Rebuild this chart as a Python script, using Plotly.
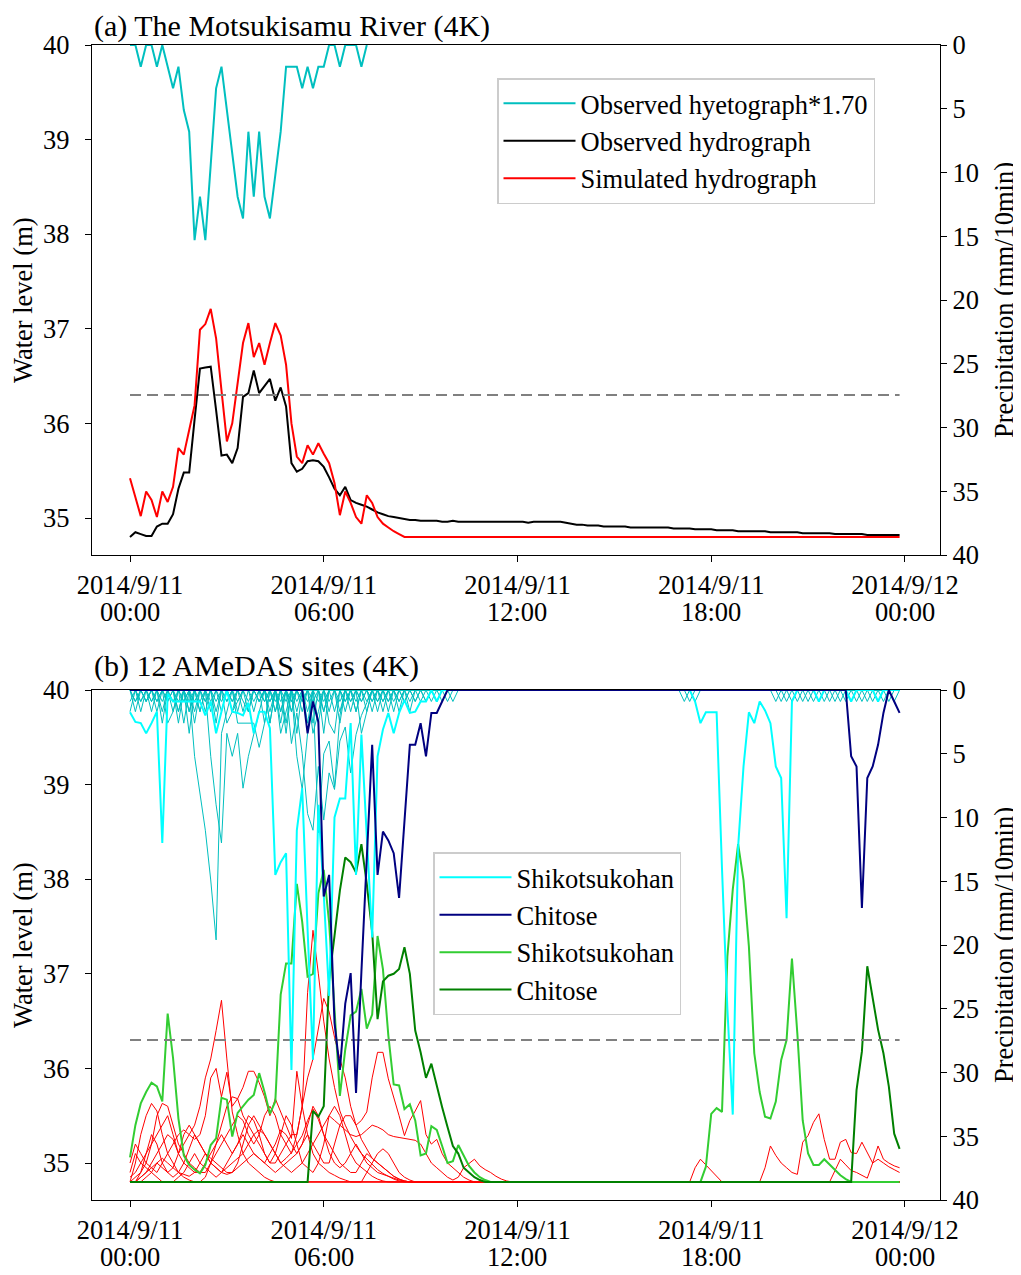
import pandas as pd
import plotly.graph_objects as go
from plotly.subplots import make_subplots

FONT = "Liberation Serif"
N = 144
times = pd.date_range("2014-09-11 00:00", periods=N, freq="10min")

# ---------- (a) The Motsukisamu River ----------
hyeto_a = [0, 0, 1.7, 0, 0, 1.7, 0, 1.7, 3.4, 1.7,
           5.1, 6.8, 15.3, 11.9, 15.3, 9.4, 3.4, 1.7, 5.2, 8.6,
           11.9, 13.6, 6.8, 11.9, 6.8, 11.9, 13.6, 10.2, 6.8, 1.7,
           1.7, 1.7, 3.4, 1.7, 3.4, 1.7, 1.7, 0, 0, 1.7,
           0, 0, 0, 1.7, 0]

obs_a = [34.80, 34.85, 34.83, 34.81, 34.81, 34.91, 34.94, 34.94, 35.04, 35.31,
         35.48, 35.48, 36.04, 36.58, 36.59, 36.60, 36.14, 35.66, 35.67, 35.58,
         35.74, 36.28, 36.32, 36.56, 36.32, 36.39, 36.47, 36.24, 36.38, 36.18,
         35.58, 35.49, 35.52, 35.60, 35.61, 35.60, 35.54, 35.43, 35.31, 35.24,
         35.33, 35.19, 35.16, 35.14, 35.12, 35.09, 35.06, 35.04, 35.02, 35.01,
         35.00, 34.99, 34.98, 34.98, 34.97, 34.97, 34.97, 34.97, 34.96, 34.96,
         34.97, 34.96, 34.96, 34.96, 34.96, 34.96, 34.96, 34.96, 34.96, 34.96,
         34.96, 34.96, 34.96, 34.96, 34.95, 34.96, 34.96, 34.96, 34.96, 34.96,
         34.96, 34.95, 34.94, 34.93, 34.93, 34.92, 34.92, 34.92, 34.91, 34.91,
         34.91, 34.91, 34.91, 34.90, 34.90, 34.90, 34.90, 34.90, 34.90, 34.90,
         34.90, 34.89, 34.89, 34.89, 34.89, 34.88, 34.88, 34.88, 34.88, 34.87,
         34.87, 34.87, 34.87, 34.86, 34.86, 34.86, 34.86, 34.86, 34.86, 34.85,
         34.85, 34.85, 34.85, 34.85, 34.85, 34.84, 34.84, 34.84, 34.84, 34.84,
         34.84, 34.83, 34.83, 34.83, 34.83, 34.83, 34.83, 34.82, 34.82, 34.82,
         34.82, 34.82, 34.82, 34.82]

sim_a = [35.42, 35.22, 35.02, 35.28, 35.19, 35.01, 35.28, 35.17, 35.33, 35.74,
         35.67, 35.93, 36.19, 36.99, 37.05, 37.21, 36.90, 36.35, 35.81, 36.00,
         36.42, 36.85, 37.06, 36.70, 36.85, 36.62, 36.85, 37.06, 36.93, 36.62,
         36.00, 35.65, 35.58, 35.77, 35.67, 35.79, 35.68, 35.58, 35.37, 35.03,
         35.28, 35.16, 35.01, 34.94, 35.24, 35.16, 35.01, 34.94, 34.90, 34.86,
         34.83] + [34.80] * 93

warning_level = 36.3

# ---------- (b) 12 AMeDAS sites ----------
rain_shikotsu = ([1.75, 2.5, 2.6, 3.4, 2.6, 1.7, 12.0, 0.3, 0.9, 0.9,
                  0.9, 0.9, 0.9, 0.9, 2.0, 0.9, 3.4, 1.7, 0.0, 1.7,
                  1.8, 2.0, 1.0, 3.4, 1.7, 1.7, 3.0, 14.5, 13.5, 12.8,
                  29.8, 11.0, 7.7, 18.8, 29.0, 9.0, 16.0, 24.0, 10.0, 8.5,
                  8.5, 2.6, 14.5, 3.5, 11.0, 19.4, 5.2, 3.1, 1.8, 3.4,
                  1.8, 0.8, 1.8, 1.7, 0.9, 0.9, 0.0, 0.9, 0.0, 0.0]
                 + [0.0] * 44
                 + [0.0, 0.9, 2.6, 1.75, 1.75, 1.75,
                    14.0, 25.0, 33.3, 12.3, 6.0, 1.75, 2.6, 0.9, 1.6, 2.6,
                    6.0, 6.9, 17.9, 0.9, 0.0, 0.0, 0.0, 0.0, 0.9, 0.0,
                    0, 0, 0, 0, 0.9, 0, 0, 0, 0, 0.9, 0, 0, 0, 0])

rain_chitose = ([0.0] * 33
                + [3.4, 0.9, 2.5, 16.2, 14.5, 26.1, 29.8, 24.6, 22.2, 31.6,
                   22.1, 13.3, 4.3, 14.5, 11.1, 11.8, 12.8, 16.3, 10.0, 4.3,
                   4.3, 2.6, 5.2, 1.8, 1.8, 0.9]
                + [0.0] * 75
                + [5.2, 6.0, 17.1, 6.9, 6.0, 4.3, 1.8, 0.0, 0.9, 1.8])

wl_shikotsu = ([35.06, 35.40, 35.63, 35.75, 35.85, 35.81, 35.65, 36.58, 36.11, 35.47,
                35.08, 34.98, 34.93, 34.89, 34.98, 35.19, 35.26, 35.69, 35.67, 35.28,
                35.53, 35.60, 35.67, 35.72, 35.95, 35.75, 35.52, 35.65, 36.78, 37.11,
                37.11, 37.95, 37.55, 36.97, 37.00, 37.85, 38.10, 37.54, 36.56, 35.71,
                36.20, 36.56, 36.60, 36.84, 36.42, 36.57, 37.40, 37.05, 36.35, 35.83,
                35.82, 35.57, 35.62, 35.45, 35.08, 35.10, 35.39, 35.35, 35.18, 35.00,
                35.02, 35.19, 35.08, 34.97, 34.90, 34.85, 34.82]
               + [34.80] * 40
               + [34.96, 35.52, 35.58, 35.54, 37.18, 37.89, 38.37, 37.99, 37.29, 36.16,
                  35.75, 35.49, 35.47, 35.65, 36.09, 36.30, 37.16, 36.37, 35.45, 35.10,
                  34.98, 34.98, 35.04, 34.98, 34.93, 34.87, 34.83]
               + [34.80] * 10)

wl_chitose = ([34.80] * 34
              + [35.55, 35.49, 35.60, 36.94, 37.40, 37.88, 38.23, 38.18, 38.07, 38.37,
                 37.95, 37.44, 36.52, 36.92, 36.98, 37.00, 37.05, 37.28, 37.00, 36.40,
                 36.17, 35.90, 36.05, 35.81, 35.59, 35.38, 35.18, 35.10, 34.95, 34.90,
                 34.85, 34.82]
              + [34.80] * 69
              + [35.77, 36.18, 37.08, 36.76, 36.41, 36.16, 35.81, 35.31, 35.15])

# other 10 sites: precipitation readings (index: value, zero elsewhere)
rain_others = [
    {1: 1.7, 3: 0.9, 5: 1.7, 8: 0.9, 10: 2.6, 12: 5.2, 13: 8.0, 14: 11.0, 15: 14.9, 16: 19.6,
     17: 3.4, 18: 1.7, 20: 0.9, 22: 1.7, 24: 0.9, 26: 1.7, 28: 0.9, 30: 1.7, 32: 0.9, 34: 2.6,
     36: 1.7, 39: 0.9, 42: 1.7, 45: 0.9, 48: 0.9, 104: 0.9, 123: 0.9, 127: 0.9, 137: 0.9},
    {0: 0.9, 2: 1.7, 4: 0.9, 6: 2.6, 9: 1.7, 11: 3.4, 13: 1.7, 15: 5.2, 16: 9.0, 17: 12.0,
     18: 3.4, 19: 5.2, 20: 3.4, 21: 7.7, 22: 5.2, 23: 3.4, 24: 1.7, 26: 2.6, 28: 1.7, 30: 4.2,
     31: 1.8, 32: 5.0, 33: 9.7, 34: 11.0, 35: 6.0, 36: 10.2, 37: 6.5, 38: 7.8, 39: 4.0, 40: 2.9,
     41: 6.5, 42: 3.5, 43: 2.0, 44: 1.0, 46: 0.9, 48: 1.7, 50: 0.9, 52: 0.9, 55: 0.9,
     105: 0.9, 121: 0.9, 129: 0.9, 134: 0.9},
    {1: 0.9, 4: 1.7, 7: 0.9, 10: 0.9, 13: 1.7, 16: 0.9, 19: 1.7, 20: 0.9, 23: 1.7, 25: 2.6,
     27: 1.7, 29: 3.4, 31: 5.2, 32: 7.8, 33: 3.4, 35: 11.2, 36: 5.0, 37: 4.0, 38: 7.6, 39: 2.0,
     41: 0.9, 44: 1.7, 47: 0.9, 50: 1.7, 53: 0.9, 57: 0.9, 60: 0.9, 125: 0.9, 131: 0.9, 140: 0.9},
    {2: 0.9, 6: 0.9, 9: 1.7, 12: 0.9, 15: 0.9, 18: 0.9, 21: 0.9, 22: 1.7, 25: 0.9, 28: 1.7,
     30: 0.9, 33: 1.7, 35: 2.6, 37: 1.7, 40: 0.9, 43: 0.9, 46: 1.7, 49: 0.9, 52: 1.7, 56: 0.9,
     59: 0.9, 122: 0.9, 133: 0.9, 138: 0.9},
    {3: 0.9, 8: 1.7, 11: 0.9, 14: 1.7, 17: 0.9, 19: 0.9, 24: 0.9, 26: 0.9, 29: 0.9, 31: 1.7,
     34: 0.9, 38: 1.7, 42: 0.9, 45: 1.7, 51: 0.9, 54: 0.9, 126: 0.9, 135: 0.9, 141: 0.9},
    {5: 0.9, 7: 2.6, 8: 1.7, 11: 1.7, 14: 0.9, 17: 1.7, 20: 2.6, 21: 2.6, 22: 2.6, 23: 2.6,
     24: 4.5, 25: 2.6, 27: 0.9, 30: 1.7, 33: 0.9, 36: 0.9, 39: 1.7, 44: 0.9, 48: 0.9, 58: 0.9,
     120: 0.9, 128: 0.9, 136: 0.9},
    {4: 0.9, 10: 0.9, 13: 0.9, 16: 1.7, 18: 2.6, 19: 1.7, 23: 0.9, 27: 1.7, 30: 0.9, 32: 1.7,
     34: 3.4, 35: 1.7, 37: 0.9, 40: 1.7, 43: 0.9, 47: 1.7, 55: 0.9, 130: 0.9, 139: 0.9, 142: 0.9},
    {1: 0.9, 6: 1.7, 9: 0.9, 12: 2.6, 15: 1.7, 18: 0.9, 21: 1.7, 24: 0.9, 26: 2.6, 28: 3.4,
     29: 1.7, 31: 0.9, 36: 1.7, 41: 0.9, 45: 0.9, 49: 1.7, 53: 0.9, 103: 0.9, 124: 0.9, 132: 0.9},
    {2: 0.9, 5: 0.9, 11: 1.7, 14: 0.9, 20: 1.7, 25: 0.9, 29: 2.6, 32: 0.9, 35: 0.9, 37: 2.6,
     38: 3.4, 40: 0.9, 42: 1.7, 46: 0.9, 50: 0.9, 57: 0.9},
    {0: 1.7, 3: 0.9, 7: 0.9, 9: 2.6, 12: 1.7, 16: 2.6, 19: 0.9, 22: 0.9, 26: 0.9, 28: 2.6,
     31: 3.4, 33: 2.6, 36: 3.4, 39: 2.6, 41: 1.7, 43: 3.4, 44: 1.7, 47: 0.9, 51: 0.9},
]

# other 10 sites: simulated water level (early readings, then late readings as index: value)
BASE = 34.80
wl_others = [
    ([34.90, 35.10, 35.00, 34.95, 34.90, 34.85, 34.80, 34.80, 34.80, 34.85,
      34.90, 35.00, 35.10, 35.00, 34.95, 34.90, 34.85, 34.90, 35.00, 35.10,
      35.20, 35.35, 35.50, 35.45, 35.30, 35.10, 35.00, 35.00, 35.10, 35.20,
      35.30, 35.30, 35.60, 36.80, 37.46, 37.00, 36.50, 36.10, 35.80, 35.55,
      35.40, 35.28, 35.18, 35.10, 35.04, 34.98, 34.93, 34.89, 34.86, 34.83, 34.81], {}),
    ([35.00, 35.20, 35.10, 35.00, 34.95, 34.90, 35.00, 35.10, 35.20, 35.30,
      35.35, 35.30, 35.40, 35.60, 35.90, 36.10, 36.40, 36.72, 36.10, 35.54,
      35.30, 35.10, 35.00, 34.95, 34.90, 34.85, 34.82], {}),
    ([34.80, 34.85, 34.90, 35.00, 35.20, 35.50, 35.63, 35.60, 35.40, 35.20,
      35.10, 35.00, 34.95, 34.90, 34.90, 35.00, 35.10, 35.20, 35.30, 35.40,
      35.50, 35.45, 35.30, 35.20, 35.30, 35.50, 35.60, 35.50, 35.30, 35.20,
      35.10, 35.30, 35.60, 35.90, 36.10, 36.40, 36.74, 36.60, 36.33, 36.10,
      35.90, 35.60, 35.40, 35.25, 35.15, 35.05, 35.00, 34.95, 34.90, 34.86,
      34.83, 34.81], {}),
    ([34.80, 34.80, 34.85, 34.90, 34.95, 35.00, 35.05, 35.00, 34.95, 34.90,
      34.88, 34.86, 34.90, 35.00, 35.10, 35.05, 35.00, 34.95, 34.90, 34.90,
      34.95, 35.00, 35.05, 35.10, 35.05, 35.00, 34.95, 34.90, 34.95, 35.00,
      35.05, 35.10, 35.20, 35.30, 35.20, 35.10, 35.00, 35.00, 35.20, 35.40,
      35.50, 35.50, 35.40, 35.45, 35.54, 35.90, 36.17, 36.17, 35.89, 35.70,
      35.50, 35.29, 35.45, 35.55, 35.66, 35.30, 35.20, 35.25, 35.10, 35.00,
      34.95, 34.90, 34.85, 34.82], {}),
    ([34.80, 35.00, 35.30, 35.50, 35.63, 35.55, 35.30, 35.10, 35.00, 34.90,
      34.85, 34.82, 34.80, 34.80, 34.85, 35.00, 35.20, 35.40, 35.60, 35.70,
      35.68, 35.80, 35.97, 35.97, 35.85, 35.70, 35.50, 35.68, 35.55, 35.40,
      35.26, 35.97, 35.60, 35.30, 35.10, 35.00, 34.95, 34.90, 34.87, 34.84,
      34.82], {}),
    ([34.85, 34.90, 35.00, 35.10, 35.20, 35.30, 35.40, 35.50, 35.30, 35.10,
      35.20, 35.30, 35.25, 35.30, 35.50, 35.90, 36.00, 35.70, 35.96, 35.60,
      35.68, 35.50, 35.40, 35.30, 35.20, 35.10, 35.00, 35.10, 35.30, 35.50,
      35.40, 35.20, 35.00, 34.95, 34.90, 35.00, 35.20, 35.50, 35.60, 35.50,
      35.30, 35.10, 35.00, 34.95, 34.90, 34.86, 34.83, 34.81], {}),
    ([34.80, 34.80, 34.85, 34.90, 35.00, 35.10, 35.20, 35.30, 35.25, 35.10,
      35.00, 34.95, 34.90, 34.90, 35.00, 35.10, 35.20, 35.30, 35.20, 35.10,
      35.20, 35.30, 35.20, 35.10, 35.05, 35.00, 35.10, 35.20, 35.35, 35.30,
      35.20, 35.10, 35.20, 35.40, 35.60, 35.50, 35.30, 35.20, 35.10, 35.00,
      34.95, 34.90, 34.90, 35.00, 35.10, 35.05, 35.00, 34.95, 34.90, 34.86,
      34.83, 34.81], {}),
    ([34.80, 34.80, 34.80, 34.85, 34.90, 35.00, 34.95, 34.90, 34.85, 34.90,
      35.00, 35.15, 35.30, 35.20, 35.10, 35.00, 34.95, 34.90, 34.95, 35.00,
      35.05, 35.10, 35.20, 35.30, 35.35, 35.30, 35.20, 35.10, 35.00, 35.05,
      35.11, 35.20, 35.29, 35.45, 35.57, 35.46, 35.30, 35.11, 35.00, 34.95,
      35.00, 35.10, 35.20, 35.10, 35.00, 34.95, 34.90, 34.88, 34.86, 34.84,
      34.82, 34.81], {}),
    ([34.80, 34.80, 34.90, 35.10, 35.30, 35.20, 35.00, 34.90, 34.95, 35.10,
      35.30, 35.40, 35.30, 35.20, 35.10, 35.00, 34.95, 34.90, 34.88, 34.90,
      35.00, 35.20, 35.40, 35.50, 35.40, 35.30, 35.20, 35.10, 35.00, 34.95,
      34.90, 34.95, 35.00, 35.10, 35.20, 35.30, 35.40, 35.50, 35.45, 35.40,
      35.35, 35.30, 35.28, 35.30, 35.35, 35.40, 35.38, 35.35, 35.30, 35.28,
      35.27, 35.26, 35.25, 35.24, 35.20, 35.10, 35.00, 34.95, 34.90, 34.85,
      34.82, 34.85, 34.95, 35.00, 35.04, 34.97, 34.93, 34.90, 34.86, 34.83, 34.81],
     {105: 34.95, 106: 35.04, 107: 34.98, 108: 34.92, 109: 34.86}),
    ([34.80] * 44 + [34.90, 35.00, 35.10, 35.15, 35.10, 35.00, 34.90, 34.85, 34.82],
     {118: 34.95, 119: 35.18, 120: 35.08, 121: 35.0, 122: 34.95, 123: 34.9, 124: 34.88,
      125: 35.22, 126: 35.29, 127: 35.43, 128: 35.52, 129: 35.25, 130: 35.04, 131: 35.04,
      132: 35.22, 133: 35.25, 134: 35.11, 135: 35.10, 136: 35.22, 137: 35.11, 138: 35.00,
      139: 35.18, 140: 35.04, 141: 35.00, 142: 34.97, 143: 34.95}),
    ([34.80] * 20,
     {131: 34.92, 132: 35.04, 133: 34.98, 134: 34.92, 135: 34.90, 136: 34.87, 137: 34.84,
      138: 35.00, 139: 35.04, 140: 35.00, 141: 34.96, 142: 34.93, 143: 34.90}),
]

tick_vals = ["2014-09-11 00:00:00", "2014-09-11 06:00:00", "2014-09-11 12:00:00",
             "2014-09-11 18:00:00", "2014-09-12 00:00:00"]
tick_dates = ["2014/9/11", "2014/9/11", "2014/9/11", "2014/9/11", "2014/9/12"]
tick_clock = ["00:00", "06:00", "12:00", "18:00", "00:00"]


def from_pairs(pairs, base):
    vals = [base] * N
    for i, v in pairs.items():
        vals[i] = v
    return vals


def full_level(early, late):
    vals = list(early) + [BASE] * (N - len(early))
    for i, v in late.items():
        vals[i] = v
    return vals


# page body adds an 8 px offset; plot area is 848 x (2 x 510) px, 135 px apart
PW, PH = 848, 1155
fig = make_subplots(rows=2, cols=1, vertical_spacing=135 / PH,
                    specs=[[{"secondary_y": True}], [{"secondary_y": True}]])

DASH = "11px,6px"

# panel (a)
fig.add_trace(go.Scatter(x=times, y=obs_a, mode="lines", name="Observed hydrograph",
                         line=dict(color="black", width=2), legend="legend",
                         legendrank=2), row=1, col=1)
fig.add_trace(go.Scatter(x=times, y=sim_a, mode="lines", name="Simulated hydrograph",
                         line=dict(color="red", width=2), legend="legend",
                         legendrank=3), row=1, col=1)
fig.add_trace(go.Scatter(x=[times[0], times[-1]], y=[warning_level] * 2, mode="lines",
                         line=dict(color="gray", width=2, dash=DASH), showlegend=False),
              row=1, col=1)
fig.add_trace(go.Scatter(x=times[:len(hyeto_a)], y=hyeto_a, mode="lines",
                         name="Observed hyetograph*1.70",
                         line=dict(color="#00bfbf", width=2), legend="legend",
                         legendrank=1),
              row=1, col=1, secondary_y=True)

# panel (b) water levels
for early, late in wl_others:
    fig.add_trace(go.Scatter(x=times, y=full_level(early, late), mode="lines",
                             line=dict(color="red", width=1), showlegend=False,
                             hoverinfo="skip"), row=2, col=1)
fig.add_trace(go.Scatter(x=times, y=wl_shikotsu, mode="lines", name="Shikotsukohan",
                         line=dict(color="#32cd32", width=2), legend="legend2",
                         legendrank=3), row=2, col=1)
fig.add_trace(go.Scatter(x=times, y=wl_chitose, mode="lines", name="Chitose",
                         line=dict(color="#008000", width=2), legend="legend2",
                         legendrank=4), row=2, col=1)
fig.add_trace(go.Scatter(x=[times[0], times[-1]], y=[warning_level] * 2, mode="lines",
                         line=dict(color="gray", width=2, dash=DASH), showlegend=False),
              row=2, col=1)

# panel (b) precipitation
for pairs in rain_others:
    fig.add_trace(go.Scatter(x=times, y=from_pairs(pairs, 0.0), mode="lines",
                             line=dict(color="#00bfbf", width=1), showlegend=False,
                             hoverinfo="skip"), row=2, col=1, secondary_y=True)
fig.add_trace(go.Scatter(x=times, y=rain_shikotsu, mode="lines", name="Shikotsukohan",
                         line=dict(color="#00ffff", width=2), legend="legend2",
                         legendrank=1), row=2, col=1, secondary_y=True)
fig.add_trace(go.Scatter(x=times, y=rain_chitose, mode="lines", name="Chitose",
                         line=dict(color="#000080", width=2), legend="legend2",
                         legendrank=2), row=2, col=1, secondary_y=True)

x_range = ["2014-09-10 22:49:24", "2014-09-12 01:05:06"]

FS = 26.5
axis_font = dict(family=FONT, size=FS, color="black")
common = dict(showgrid=False, zeroline=False, showline=True, linecolor="black", linewidth=1.3,
              ticks="outside", ticklen=6, tickwidth=1.3, tickcolor="black", tickfont=axis_font,
              automargin=False)

for r in (1, 2):
    fig.update_xaxes(type="date", range=x_range, domain=[0, 1], tickvals=tick_vals,
                     ticktext=tick_dates, mirror=True, **common, row=r, col=1)
    fig.update_yaxes(range=[34.609, 40], tickvals=[35, 36, 37, 38, 39, 40], mirror=False,
                     ticklabelstandoff=10, **common, row=r, col=1, secondary_y=False)
    fig.update_yaxes(range=[40, 0], tickvals=[0, 5, 10, 15, 20, 25, 30, 35, 40],
                     **common, row=r, col=1, secondary_y=True)

legend_style = dict(font=dict(family=FONT, size=FS, color="black"), bgcolor="rgba(255,255,255,0.8)",
                    bordercolor="#cccccc", borderwidth=1.5, traceorder="normal",
                    itemwidth=72, xanchor="left", yanchor="top")


def py(page_y):
    # page pixel (top of plot area = 45) -> paper fraction
    return 1 - (page_y - 45) / PH


annotations = [
    dict(text="(a) The Motsukisamu River (4K)", x=0, y=py(26), xref="paper", yref="paper",
         xanchor="left", yanchor="middle", showarrow=False,
         font=dict(family=FONT, size=30, color="black")),
    dict(text="(b) 12 AMeDAS sites (4K)", x=0, y=py(666), xref="paper", yref="paper",
         xanchor="left", yanchor="middle", showarrow=False,
         font=dict(family=FONT, size=30, color="black")),
]
for yc in (300, 945):
    annotations.append(dict(text="Water level (m)", x=-69 / PW, y=py(yc),
                            xref="paper", yref="paper", textangle=-90, showarrow=False,
                            xanchor="center", yanchor="middle",
                            font=dict(family=FONT, size=FS, color="black")))
    annotations.append(dict(text="Precipitation (mm/10min)", x=912 / PW, y=py(yc),
                            xref="paper", yref="paper", textangle=-90, showarrow=False,
                            xanchor="center", yanchor="middle",
                            font=dict(family=FONT, size=FS, color="black")))
# second line of the time tick labels
for xref, ybase in (("x", 612), ("x2", 1257)):
    for tv, lbl in zip(tick_vals, tick_clock):
        annotations.append(dict(text=lbl, x=tv, y=py(ybase), xref=xref, yref="paper",
                                xanchor="center", yanchor="middle", showarrow=False,
                                font=dict(family=FONT, size=FS, color="black")))

fig.update_layout(
    width=1013, height=1267,
    margin=dict(l=84, r=81, t=37, b=75),
    paper_bgcolor="white", plot_bgcolor="white",
    font=dict(family=FONT, size=FS, color="black"),
    legend=dict(x=405 / PW, y=py(78), **legend_style),
    legend2=dict(x=341 / PW, y=py(852), **legend_style),
    annotations=annotations,
)

fig.write_html("out.html")
